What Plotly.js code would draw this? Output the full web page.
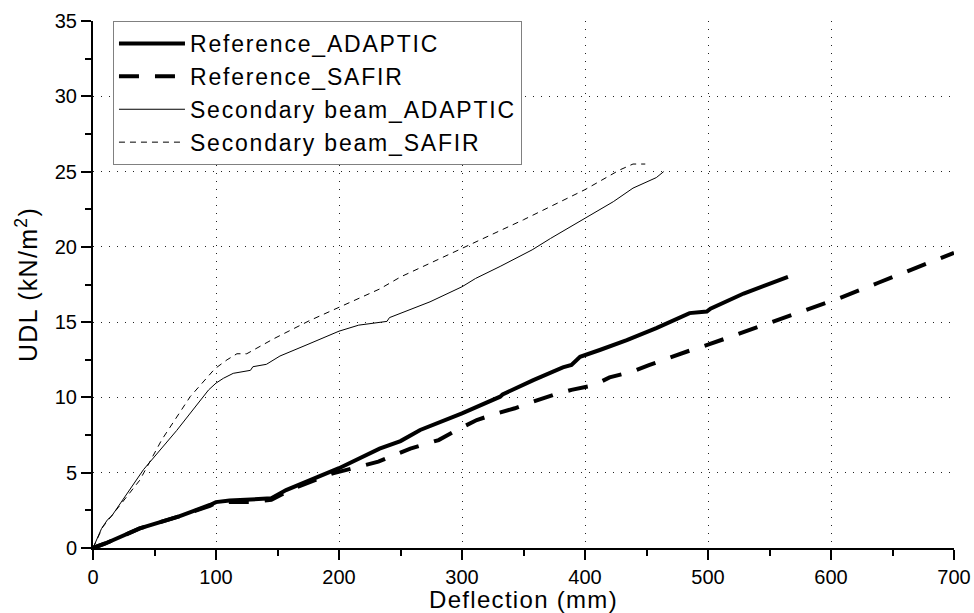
<!DOCTYPE html>
<html>
<head>
<meta charset="utf-8">
<script src="https://cdn.plot.ly/plotly-3.0.1.min.js"></script>
<style>
html,body{margin:0;padding:0;background:#fff;}
#chart{width:974px;height:613px;}
text.legendtext{letter-spacing:1.8px;}
text.xtitle,text.ytitle{letter-spacing:1.3px;}
</style>
</head>
<body>
<div id="chart"></div>
<script>
// Data
var seriesNames = ["Reference_ADAPTIC", "Reference_SAFIR", "Secondary beam_ADAPTIC", "Secondary beam_SAFIR"];

var refAdapticX = [0, 10, 38, 70, 95, 100, 111, 130, 145, 157, 184, 200, 233, 250, 266, 300, 331, 333, 358, 382, 389, 396, 412, 434, 458, 485, 499, 502, 529, 565];
var refAdapticY = [0, 0.3, 1.3, 2.1, 2.86, 3.05, 3.15, 3.2, 3.3, 3.85, 4.73, 5.3, 6.6, 7.1, 7.84, 8.94, 10.05, 10.2, 11.15, 12.0, 12.15, 12.7, 13.15, 13.8, 14.6, 15.6, 15.7, 15.9, 16.9, 18.0];

var refSafirX = [0, 10, 38, 70, 95, 100, 111, 130, 145, 163, 195, 220, 232, 258, 281, 296, 312, 327, 343, 358, 374, 389, 407, 420, 438, 452, 469, 483, 500, 545, 575, 607, 638, 670, 700];
var refSafirY = [0, 0.3, 1.3, 2.1, 2.8, 3.0, 3.05, 3.05, 3.2, 3.96, 4.96, 5.5, 5.73, 6.6, 7.17, 7.84, 8.5, 8.9, 9.28, 9.72, 10.16, 10.5, 10.8, 11.33, 11.7, 12.15, 12.66, 13.05, 13.5, 14.8, 15.7, 16.6, 17.6, 18.6, 19.6];

var secAdapticX = [0, 7, 12, 15, 41, 68, 94, 100, 106, 114, 128, 130, 141, 152, 174, 200, 216, 239, 241, 250, 274, 300, 311, 331, 347, 357, 372, 400, 423, 439, 452, 458, 464];
var secAdapticY = [0, 1.3, 1.9, 2.1, 5.2, 7.8, 10.5, 10.95, 11.27, 11.6, 11.8, 12.04, 12.2, 12.75, 13.5, 14.4, 14.8, 15.05, 15.3, 15.6, 16.35, 17.35, 17.9, 18.7, 19.35, 19.8, 20.56, 21.9, 23.0, 23.9, 24.4, 24.6, 25.0];

var secSafirX = [0, 8, 38, 56, 79, 99, 109, 117, 125, 141, 147, 176, 200, 233, 250, 300, 350, 400, 428, 439, 449];
var secSafirY = [0, 1.4, 4.5, 7.2, 10.05, 11.9, 12.5, 12.9, 12.9, 13.6, 13.9, 15.1, 16.0, 17.2, 18.0, 19.9, 21.8, 23.8, 25.1, 25.5, 25.5];

var xTitle = "Deflection (mm)";
var yTitle = "UDL (kN/m<sup>2</sup>)";
var gridXVals = [100, 200, 300, 400, 500, 600];
var gridYVals = [5, 10, 15, 20, 25, 30];

var font = "Liberation Sans, Arial, sans-serif";

var traces = [
  {x: refAdapticX, y: refAdapticY, name: seriesNames[0], mode: "lines", line: {color: "#000", width: 4}},
  {x: refSafirX, y: refSafirY, name: seriesNames[1], mode: "lines", line: {color: "#000", width: 4, dash: "20px,16px"}},
  {x: secAdapticX, y: secAdapticY, name: seriesNames[2], mode: "lines", line: {color: "#000", width: 1}},
  {x: secSafirX, y: secSafirY, name: seriesNames[3], mode: "lines", line: {color: "#000", width: 1, dash: "6px,5px"}},
  {x: [], y: [], xaxis: "x2", yaxis: "y2", showlegend: false, hoverinfo: "skip"}
];

var layout = {
  width: 974, height: 613,
  paper_bgcolor: "#fff", plot_bgcolor: "rgba(0,0,0,0)",
  margin: {l: 93, r: 20, t: 21, b: 65, pad: 0},
  font: {family: font, color: "#000"},
  showlegend: true,
  legend: {
    x: 0.0232, y: 1, xanchor: "left", yanchor: "top",
    bgcolor: "#fff", bordercolor: "#808080", borderwidth: 1,
    font: {family: font, size: 23, color: "#000"},
    itemwidth: 66
  },
  xaxis: {
    range: [0, 700], dtick: 100, tick0: 0,
    showline: true, linecolor: "#000", linewidth: 2,
    ticks: "outside", ticklen: 10, tickwidth: 2, tickcolor: "#000",
    minor: {dtick: 50, ticks: "outside", ticklen: 6, tickwidth: 2, tickcolor: "#000", showgrid: false},
    showgrid: false, zeroline: false,
    tickfont: {family: font, size: 20},
    title: {text: xTitle, font: {family: font, size: 24}, standoff: 8},
    fixedrange: true
  },
  yaxis: {
    range: [0, 35], dtick: 5, tick0: 0,
    showline: true, linecolor: "#000", linewidth: 2,
    ticks: "outside", ticklen: 10, tickwidth: 2, tickcolor: "#000",
    minor: {dtick: 2.5, ticks: "outside", ticklen: 6, tickwidth: 2, tickcolor: "#000", showgrid: false},
    showgrid: false, zeroline: false,
    tickfont: {family: font, size: 20},
    title: {text: yTitle, font: {family: font, size: 25}, standoff: 10},
    fixedrange: true
  },
  xaxis2: {
    range: [0, 700], overlaying: "x", anchor: "y2",
    tickvals: gridXVals, showticklabels: false, ticks: "",
    showgrid: true, gridcolor: "#222", gridwidth: 1, griddash: "1px,7px",
    showline: false, zeroline: false, fixedrange: true
  },
  yaxis2: {
    range: [0, 35], overlaying: "y", anchor: "x2",
    tickvals: gridYVals, showticklabels: false, ticks: "",
    showgrid: true, gridcolor: "#222", gridwidth: 1, griddash: "1px,7px",
    showline: false, zeroline: false, fixedrange: true
  }
};

Plotly.newPlot("chart", traces, layout, {displayModeBar: false, staticPlot: true});
</script>
</body>
</html>
